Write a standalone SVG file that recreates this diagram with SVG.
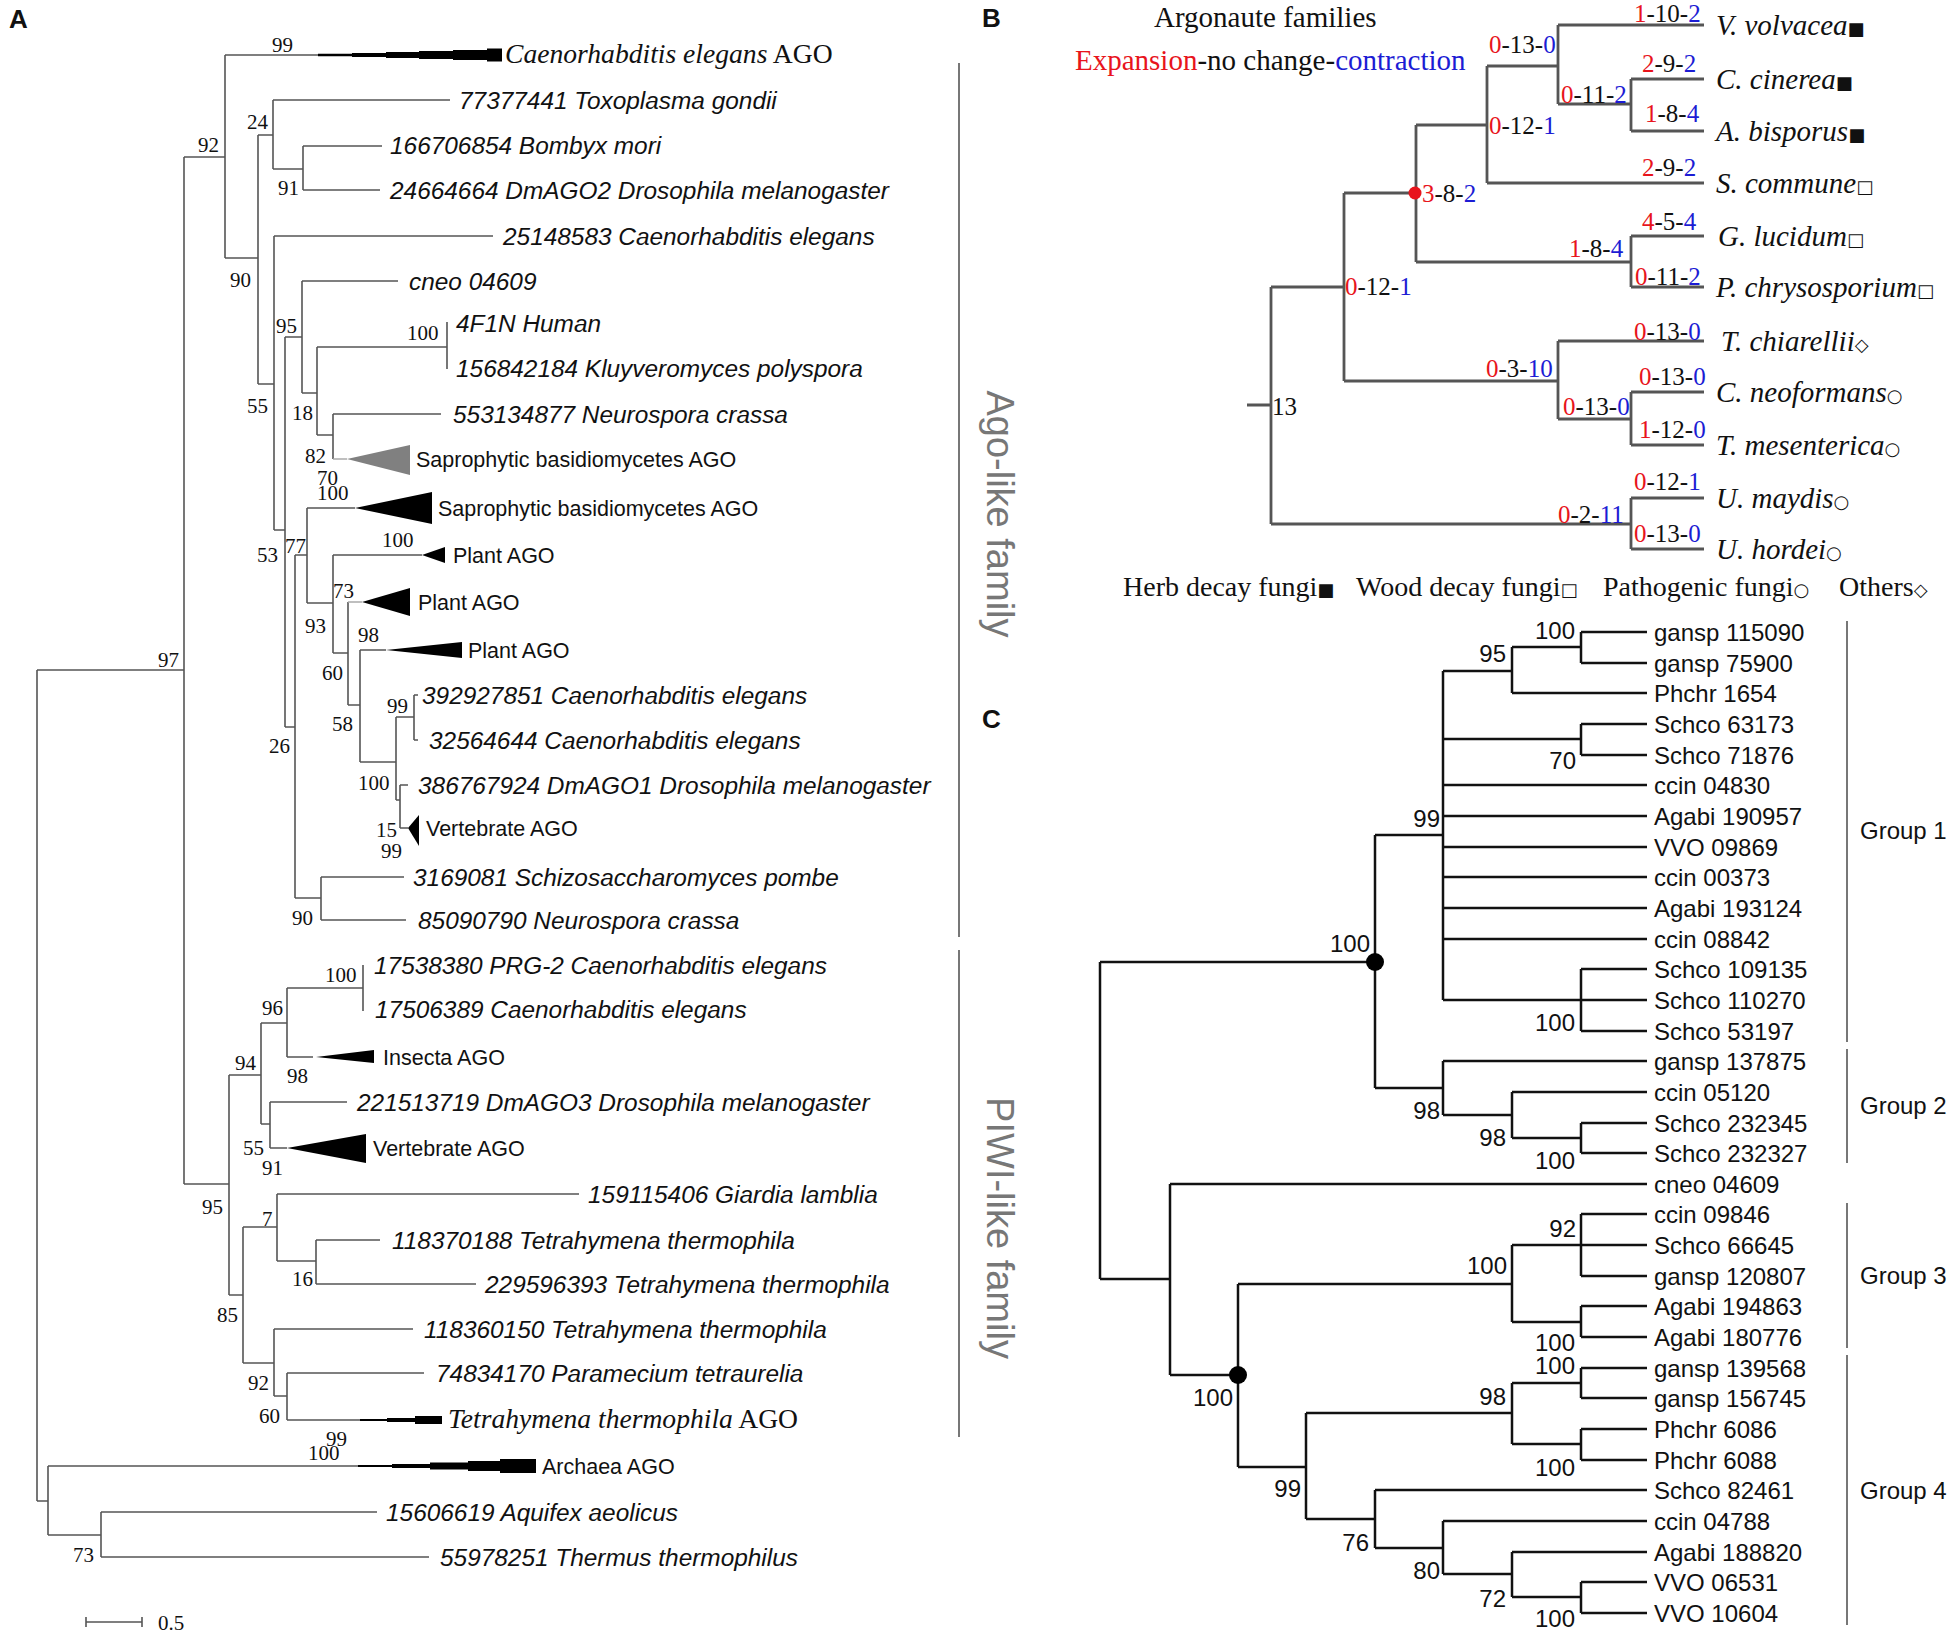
<svg xmlns="http://www.w3.org/2000/svg" width="1950" height="1634" viewBox="0 0 1950 1634">
<style>
.bg{fill:#fff}
.ta{stroke:#555;stroke-width:1.6;fill:none}
.tb{stroke:#555;stroke-width:2.8;fill:none}
.tc{stroke:#111;stroke-width:2.5;fill:none}
.br{stroke:#777;stroke-width:2;fill:none}
.lab{font-family:"Liberation Sans",Arial,sans-serif;font-style:italic;font-size:24.4px;fill:#111}
.cl{font-family:"Liberation Sans",Arial,sans-serif;font-size:21.5px;fill:#111}
.tm{font-family:"Liberation Serif","Times New Roman",serif;font-size:27.6px;fill:#111}
.bs{font-family:"Liberation Serif","Times New Roman",serif;font-size:21px;fill:#111}
.pl{font-family:"Liberation Sans",Arial,sans-serif;font-weight:bold;font-size:26px;fill:#111}
.fam{font-family:"Liberation Sans",Arial,sans-serif;font-size:38px;fill:#777}
.bn{font-family:"Liberation Serif","Times New Roman",serif;font-size:25px;fill:#111}
.bt{font-family:"Liberation Serif","Times New Roman",serif;font-size:29px;fill:#111}
.bl{font-family:"Liberation Serif","Times New Roman",serif;font-style:italic;font-size:29px;fill:#111}
.lg{font-family:"Liberation Serif","Times New Roman",serif;font-size:28px;fill:#111}
.sy{font-family:"DejaVu Sans",sans-serif;font-style:normal;font-size:18px}
.r{fill:#e8141c}
.b{fill:#1c1cd4}
.cn{font-family:"Liberation Sans",Arial,sans-serif;font-size:24px;fill:#111}
.w{fill:#000}
</style>
<rect class="bg" x="0" y="0" width="1950" height="1634"/>

<!-- ================= PANEL A ================= -->
<text class="pl" x="9" y="28">A</text>
<g id="A-connectors">
<path class="ta" d="M37,670V1501M37,670H184M37,1501H48
M184,157V1184M184,157H225M184,1184H229
M225,55V258M225,55H318M225,258H258
M258,135V384M258,135H273M258,384H274
M273,100V169M273,100H450M273,169H303
M303,146V190M303,146H382M303,190H380
M274,236V530M274,236H493M274,530H285
M285,337V727M285,337H302M285,727H295
M302,281V393M302,281H398M302,393H317
M317,347V435M317,347H447M317,435H333
M447,322V369
M333,414V459M333,414H441
M295,555V898M295,555H307M295,898H321
M307,508V603M307,508H355M307,603H333
M333,555V653M333,555H422M333,653H348
M348,602V705M348,705H360
M360,650V762M360,650H386M360,762H396
M396,717V800M396,717H414M396,800H400
M414,695V740M414,695H418M414,740H418
M400,785V828M400,785H408M400,828H408
M321,877V920M321,877H404M321,920H406
M229,1075V1295M229,1075H261M229,1295H243
M261,1023V1124M261,1023H287M261,1124H270
M287,988V1057M287,988H363M287,1057H313
M363,965V1011
M270,1102V1148M270,1102H347M270,1148H287
M243,1227V1363M243,1227H277M243,1363H274
M277,1194V1261M277,1194H579M277,1261H316
M316,1240V1284M316,1240H380M316,1284H476
M274,1329V1396M274,1329H413M274,1396H287
M287,1373V1420M287,1373H424M287,1420H360
M48,1466V1535M48,1466H358M48,1535H101
M101,1512V1557M101,1512H377M101,1557H429"/>
<path d="M333,459H347M348,602H362" stroke="#aaa" stroke-width="1.6" fill="none"/>
<!-- scale bar -->
<path class="ta" d="M86,1622H142M86,1617V1627M142,1617V1627" stroke-width="2"/>
</g>
<text class="bs" x="158" y="1630">0.5</text>

<g id="A-bootstrap" class="bs">
<text x="272" y="52">99</text>
<text x="198" y="152">92</text>
<text x="247" y="129">24</text>
<text x="278" y="195">91</text>
<text x="230" y="287">90</text>
<text x="276" y="333">95</text>
<text x="407" y="340">100</text>
<text x="247" y="413">55</text>
<text x="292" y="420">18</text>
<text x="305" y="463">82</text>
<text x="317" y="485">70</text>
<text x="317" y="500">100</text>
<text x="382" y="547">100</text>
<text x="257" y="562">53</text>
<text x="285" y="553">77</text>
<text x="333" y="598">73</text>
<text x="305" y="633">93</text>
<text x="358" y="642">98</text>
<text x="322" y="680">60</text>
<text x="387" y="713">99</text>
<text x="332" y="731">58</text>
<text x="269" y="753">26</text>
<text x="358" y="790">100</text>
<text x="376" y="837">15</text>
<text x="381" y="858">99</text>
<text x="292" y="925">90</text>
<text x="158" y="667">97</text>
<text x="325" y="982">100</text>
<text x="262" y="1015">96</text>
<text x="235" y="1070">94</text>
<text x="287" y="1083">98</text>
<text x="243" y="1155">55</text>
<text x="262" y="1175">91</text>
<text x="202" y="1214">95</text>
<text x="262" y="1226">7</text>
<text x="292" y="1286">16</text>
<text x="217" y="1322">85</text>
<text x="248" y="1390">92</text>
<text x="259" y="1423">60</text>
<text x="326" y="1446">99</text>
<text x="308" y="1460">100</text>
<text x="73" y="1562">73</text>
</g>

<g id="A-leaves">
<g id="a-celegans-ago">
<polygon class="w" points="318,53.8 352,53.8 352,53 386,53 386,52 419,52 419,51 453,51 453,50 487,50 487,48.5 502,48.5 502,61.5 487,61.5 487,60 453,60 453,59 419,59 419,58 386,58 386,57 352,57 352,56.2 318,56.2"/>
<text class="tm" x="505" y="63"><tspan font-style="italic">Caenorhabditis elegans</tspan> AGO</text>
</g>
<text id="a-toxo" class="lab" x="459" y="108.5">77377441 Toxoplasma gondii</text>
<text id="a-bombyx" class="lab" x="390" y="154">166706854 Bombyx mori</text>
<text id="a-dmago2" class="lab" x="390" y="198.5">24664664 DmAGO2 Drosophila melanogaster</text>
<text id="a-25148583" class="lab" x="503" y="244.5">25148583 Caenorhabditis elegans</text>
<text id="a-cneo" class="lab" x="409" y="289.5">cneo 04609</text>
<text id="a-4f1n" class="lab" x="456" y="331.5">4F1N Human</text>
<text id="a-kluy" class="lab" x="456" y="376.5">156842184 Kluyveromyces polyspora</text>
<text id="a-neuro1" class="lab" x="453" y="422.5">553134877 Neurospora crassa</text>
<g id="a-sapro1">
<polygon fill="#808080" points="347,459 410,445 410,475"/>
<text class="cl" x="416" y="467">Saprophytic basidiomycetes AGO</text>
</g>
<g id="a-sapro2">
<polygon class="w" points="355,508 432,492 432,524"/>
<text class="cl" x="438" y="516">Saprophytic basidiomycetes AGO</text>
</g>
<g id="a-plant1">
<polygon class="w" points="422,555 445,547 445,563"/>
<text class="cl" x="453" y="563">Plant AGO</text>
</g>
<g id="a-plant2">
<polygon class="w" points="362,602 410,588 410,616"/>
<text class="cl" x="418" y="610">Plant AGO</text>
</g>
<g id="a-plant3">
<polygon class="w" points="386,650 462,642 462,658"/>
<text class="cl" x="468" y="658">Plant AGO</text>
</g>
<text id="a-392927851" class="lab" x="422" y="703.5">392927851 Caenorhabditis elegans</text>
<text id="a-32564644" class="lab" x="429" y="748.5">32564644 Caenorhabditis elegans</text>
<text id="a-dmago1" class="lab" x="418" y="793.5">386767924 DmAGO1 Drosophila melanogaster</text>
<g id="a-vert1">
<polygon class="w" points="408,828 419,815 419,846"/>
<text class="cl" x="426" y="836">Vertebrate AGO</text>
</g>
<text id="a-pombe" class="lab" x="413" y="885.5">3169081 Schizosaccharomyces pombe</text>
<text id="a-neuro2" class="lab" x="418" y="928.5">85090790 Neurospora crassa</text>
<text id="a-prg2" class="lab" x="374" y="973.5">17538380 PRG-2 Caenorhabditis elegans</text>
<text id="a-17506389" class="lab" x="375" y="1017.5">17506389 Caenorhabditis elegans</text>
<g id="a-insecta">
<polygon class="w" points="316,1057 374,1050 374,1063"/>
<text class="cl" x="383" y="1065">Insecta AGO</text>
</g>
<text id="a-dmago3" class="lab" x="357" y="1110.5">221513719 DmAGO3 Drosophila melanogaster</text>
<g id="a-vert2">
<polygon class="w" points="287,1148 366,1134 366,1163"/>
<text class="cl" x="373" y="1156">Vertebrate AGO</text>
</g>
<text id="a-giardia" class="lab" x="588" y="1202.5">159115406 Giardia lamblia</text>
<text id="a-tt1" class="lab" x="392" y="1248.5">118370188 Tetrahymena thermophila</text>
<text id="a-tt2" class="lab" x="485" y="1292.5">229596393 Tetrahymena thermophila</text>
<text id="a-tt3" class="lab" x="424" y="1337.5">118360150 Tetrahymena thermophila</text>
<text id="a-para" class="lab" x="436" y="1381.5">74834170 Paramecium tetraurelia</text>
<g id="a-tt-ago">
<polygon class="w" points="360,1419 387,1419 387,1418 415,1418 415,1416 442,1416 442,1424 415,1424 415,1422 387,1422 387,1421 360,1421"/>
<text class="tm" x="448" y="1428"><tspan font-style="italic">Tetrahymena thermophila</tspan> AGO</text>
</g>
<g id="a-archaea">
<polygon class="w" points="358,1465 392,1465 392,1464 430,1464 430,1462.5 468,1462.5 468,1461 500,1461 500,1459 536,1459 536,1473 500,1473 500,1471 468,1471 468,1469.5 430,1469.5 430,1468 392,1468 392,1467 358,1467"/>
<text class="cl" x="542" y="1474">Archaea AGO</text>
</g>
<text id="a-aquifex" class="lab" x="386" y="1520.5">15606619 Aquifex aeolicus</text>
<text id="a-thermus" class="lab" x="440" y="1565.5">55978251 Thermus thermophilus</text>
</g>

<g id="A-families">
<path class="br" d="M959,63V937M959,950V1437"/>
<text class="fam" text-anchor="middle" transform="translate(987,514) rotate(90)">Ago-like family</text>
<text class="fam" text-anchor="middle" transform="translate(987,1228) rotate(90)">PIWI-like family</text>
</g>

<!-- ================= PANEL B ================= -->
<text class="pl" x="982" y="27">B</text>
<text class="bt" x="1154" y="27">Argonaute families</text>
<text class="bt" x="1075" y="70"><tspan class="r">Expansion</tspan>-no change-<tspan class="b">contraction</tspan></text>

<g id="B-connectors">
<path class="tb" d="M1247,405H1271M1271,287V524M1271,287H1344M1271,524H1631
M1344,193V381M1344,193H1416M1344,381H1558
M1416,125V262M1416,125H1487M1416,262H1631
M1487,66V183M1487,66H1558M1487,183H1704
M1558,25V104M1558,25H1704M1558,104H1631
M1631,79V131M1631,79H1704M1631,131H1704
M1631,236V287M1631,236H1704M1631,287H1704
M1558,341V419M1558,341H1704M1558,419H1631
M1631,392V445M1631,392H1704M1631,445H1704
M1631,498V549M1631,498H1704M1631,549H1704"/>
<circle cx="1415" cy="193" r="6.5" fill="#e8141c"/>
</g>

<g id="B-counts" class="bn">
<text x="1634" y="22"><tspan class="r">1</tspan>-10-<tspan class="b">2</tspan></text>
<text x="1489" y="53"><tspan class="r">0</tspan>-13-<tspan class="b">0</tspan></text>
<text x="1642" y="72"><tspan class="r">2</tspan>-9-<tspan class="b">2</tspan></text>
<text x="1561" y="103"><tspan class="r">0</tspan>-11-<tspan class="b">2</tspan></text>
<text x="1645" y="122"><tspan class="r">1</tspan>-8-<tspan class="b">4</tspan></text>
<text x="1489" y="134"><tspan class="r">0</tspan>-12-<tspan class="b">1</tspan></text>
<text x="1642" y="176"><tspan class="r">2</tspan>-9-<tspan class="b">2</tspan></text>
<text x="1422" y="202"><tspan class="r">3</tspan>-8-<tspan class="b">2</tspan></text>
<text x="1642" y="230"><tspan class="r">4</tspan>-5-<tspan class="b">4</tspan></text>
<text x="1569" y="257"><tspan class="r">1</tspan>-8-<tspan class="b">4</tspan></text>
<text x="1635" y="285"><tspan class="r">0</tspan>-11-<tspan class="b">2</tspan></text>
<text x="1345" y="295"><tspan class="r">0</tspan>-12-<tspan class="b">1</tspan></text>
<text x="1634" y="340"><tspan class="r">0</tspan>-13-<tspan class="b">0</tspan></text>
<text x="1486" y="377"><tspan class="r">0</tspan>-3-<tspan class="b">10</tspan></text>
<text x="1639" y="385"><tspan class="r">0</tspan>-13-<tspan class="b">0</tspan></text>
<text x="1563" y="415"><tspan class="r">0</tspan>-13-<tspan class="b">0</tspan></text>
<text x="1272" y="415">13</text>
<text x="1639" y="438"><tspan class="r">1</tspan>-12-<tspan class="b">0</tspan></text>
<text x="1634" y="490"><tspan class="r">0</tspan>-12-<tspan class="b">1</tspan></text>
<text x="1558" y="523"><tspan class="r">0</tspan>-2-<tspan class="b">11</tspan></text>
<text x="1634" y="542"><tspan class="r">0</tspan>-13-<tspan class="b">0</tspan></text>
</g>

<g id="B-leaves" class="bl">
<text id="b-vvol" x="1716" y="35">V. volvacea<tspan class="sy">■</tspan></text>
<text id="b-ccin" x="1716" y="89">C. cinerea<tspan class="sy">■</tspan></text>
<text id="b-abis" x="1716" y="141">A. bisporus<tspan class="sy">■</tspan></text>
<text id="b-scom" x="1716" y="193">S. commune<tspan class="sy">□</tspan></text>
<text id="b-gluc" x="1718" y="246">G. lucidum<tspan class="sy">□</tspan></text>
<text id="b-pchr" x="1716" y="297">P. chrysosporium<tspan class="sy">□</tspan></text>
<text id="b-tchi" x="1721" y="351">T. chiarellii<tspan class="sy">◇</tspan></text>
<text id="b-cneo" x="1716" y="402">C. neoformans<tspan class="sy">○</tspan></text>
<text id="b-tmes" x="1716" y="455">T. mesenterica<tspan class="sy">○</tspan></text>
<text id="b-umay" x="1716" y="508">U. maydis<tspan class="sy">○</tspan></text>
<text id="b-uhor" x="1716" y="559">U. hordei<tspan class="sy">○</tspan></text>
</g>

<g id="B-legend" class="lg">
<text x="1123" y="596">Herb decay fungi<tspan class="sy">■</tspan></text>
<text x="1356" y="596">Wood decay fungi<tspan class="sy">□</tspan></text>
<text x="1603" y="596">Pathogenic fungi<tspan class="sy">○</tspan></text>
<text x="1839" y="596">Others<tspan class="sy">◇</tspan></text>
</g>

<!-- ================= PANEL C ================= -->
<text class="pl" x="982" y="728">C</text>
<g id="C-connectors">
<path class="tc" d="M1100,962V1279M1100,962H1375M1100,1279H1170
M1375,835V1088M1375,835H1443M1375,1088H1443
M1443,671V1000M1443,671H1512M1443,739H1581M1443,785H1647M1443,816H1647M1443,847H1647M1443,877H1647M1443,908H1647M1443,939H1647M1443,1000H1581
M1512,647V693M1512,647H1581M1512,693H1647
M1581,632V663M1581,632H1647M1581,663H1647
M1581,724V755M1581,724H1647M1581,755H1647
M1581,969V1031M1581,969H1647M1581,1000H1647M1581,1031H1647
M1443,1061V1115M1443,1061H1647M1443,1115H1512
M1512,1092V1138M1512,1092H1647M1512,1138H1581
M1581,1123V1153M1581,1123H1647M1581,1153H1647
M1170,1184V1375M1170,1184H1647M1170,1375H1238
M1238,1284V1467M1238,1284H1512M1238,1467H1306
M1512,1245V1322M1512,1245H1581M1512,1322H1581
M1581,1214V1276M1581,1214H1647M1581,1245H1647M1581,1276H1647
M1581,1306V1337M1581,1306H1647M1581,1337H1647
M1306,1413V1519M1306,1413H1512M1306,1519H1375
M1512,1383V1444M1512,1383H1581M1512,1444H1581
M1581,1368V1398M1581,1368H1647M1581,1398H1647
M1581,1429V1460M1581,1429H1647M1581,1460H1647
M1375,1490V1548M1375,1490H1647M1375,1548H1443
M1443,1521V1574M1443,1521H1647M1443,1574H1512
M1512,1552V1597M1512,1552H1647M1512,1597H1581
M1581,1582V1613M1581,1582H1647M1581,1613H1647"/>
<circle cx="1375" cy="962" r="9" fill="#000"/>
<circle cx="1238" cy="1375" r="9" fill="#000"/>
</g>

<g id="C-bootstrap" class="cn" text-anchor="end">
<text x="1575" y="639">100</text>
<text x="1506" y="662">95</text>
<text x="1576" y="769">70</text>
<text x="1440" y="827">99</text>
<text x="1370" y="952">100</text>
<text x="1575" y="1031">100</text>
<text x="1440" y="1119">98</text>
<text x="1506" y="1146">98</text>
<text x="1575" y="1169">100</text>
<text x="1576" y="1237">92</text>
<text x="1507" y="1274">100</text>
<text x="1575" y="1351">100</text>
<text x="1575" y="1374">100</text>
<text x="1233" y="1406">100</text>
<text x="1506" y="1405">98</text>
<text x="1575" y="1476">100</text>
<text x="1301" y="1497">99</text>
<text x="1369" y="1551">76</text>
<text x="1440" y="1579">80</text>
<text x="1506" y="1607">72</text>
<text x="1575" y="1627">100</text>
</g>

<g id="C-leaves" class="cn">
<text x="1654" y="641">gansp 115090</text>
<text x="1654" y="672">gansp 75900</text>
<text x="1654" y="702">Phchr 1654</text>
<text x="1654" y="733">Schco 63173</text>
<text x="1654" y="764">Schco 71876</text>
<text x="1654" y="794">ccin 04830</text>
<text x="1654" y="825">Agabi 190957</text>
<text x="1654" y="856">VVO 09869</text>
<text x="1654" y="886">ccin 00373</text>
<text x="1654" y="917">Agabi 193124</text>
<text x="1654" y="948">ccin 08842</text>
<text x="1654" y="978">Schco 109135</text>
<text x="1654" y="1009">Schco 110270</text>
<text x="1654" y="1040">Schco 53197</text>
<text x="1654" y="1070">gansp 137875</text>
<text x="1654" y="1101">ccin 05120</text>
<text x="1654" y="1132">Schco 232345</text>
<text x="1654" y="1162">Schco 232327</text>
<text x="1654" y="1193">cneo 04609</text>
<text x="1654" y="1223">ccin 09846</text>
<text x="1654" y="1254">Schco 66645</text>
<text x="1654" y="1285">gansp 120807</text>
<text x="1654" y="1315">Agabi 194863</text>
<text x="1654" y="1346">Agabi 180776</text>
<text x="1654" y="1377">gansp 139568</text>
<text x="1654" y="1407">gansp 156745</text>
<text x="1654" y="1438">Phchr 6086</text>
<text x="1654" y="1469">Phchr 6088</text>
<text x="1654" y="1499">Schco 82461</text>
<text x="1654" y="1530">ccin 04788</text>
<text x="1654" y="1561">Agabi 188820</text>
<text x="1654" y="1591">VVO 06531</text>
<text x="1654" y="1622">VVO 10604</text>
</g>

<g id="C-groups">
<path class="br" d="M1847,621V1042M1847,1049V1163M1847,1203V1348M1847,1355V1625"/>
<text class="cn" x="1860" y="839">Group 1</text>
<text class="cn" x="1860" y="1114">Group 2</text>
<text class="cn" x="1860" y="1284">Group 3</text>
<text class="cn" x="1860" y="1499">Group 4</text>
</g>
</svg>
